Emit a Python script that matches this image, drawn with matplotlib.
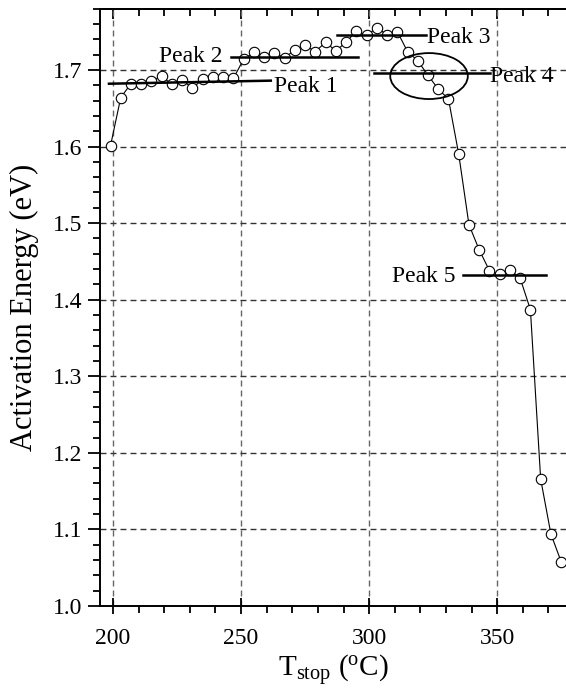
import numpy as np
import matplotlib
matplotlib.use("Agg")
import matplotlib.pyplot as plt
from matplotlib.patches import Ellipse
from matplotlib.ticker import MultipleLocator

plt.rcParams['font.family'] = ['Liberation Serif', 'DejaVu Serif']
plt.rcParams['mathtext.fontset'] = 'custom'
plt.rcParams['mathtext.rm'] = 'Liberation Serif'
plt.rcParams['mathtext.it'] = 'Liberation Serif:italic'
plt.rcParams['lines.scale_dashes'] = False

# stop temperature (C) and activation energy (eV)
t_stop = [199, 203, 207, 211, 215, 219, 223, 227, 231, 235, 239, 243, 247,
          251, 255, 259, 263, 267, 271, 275, 279, 283, 287, 291, 295, 299,
          303, 307, 311, 315, 319, 323, 327, 331, 335, 339, 343, 347, 351,
          355, 359, 363, 367, 371, 375]
energy = [1.601, 1.664, 1.682, 1.681, 1.685, 1.692, 1.681, 1.687, 1.676,
          1.688, 1.691, 1.691, 1.689, 1.714, 1.723, 1.717, 1.722, 1.716,
          1.726, 1.732, 1.724, 1.736, 1.725, 1.736, 1.751, 1.745, 1.755,
          1.746, 1.750, 1.724, 1.712, 1.693, 1.675, 1.662, 1.590, 1.498,
          1.465, 1.438, 1.433, 1.439, 1.428, 1.387, 1.166, 1.094, 1.058]

# peak marker lines: (x0, x1, y0, y1) and labels
peak_names = ['Peak 1', 'Peak 2', 'Peak 3', 'Peak 4', 'Peak 5']
peak_x0 = [198.4, 246.0, 287.6, 302.0, 336.7]
peak_x1 = [261.6, 295.7, 322.1, 347.3, 369.1]
peak_y0 = [1.682, 1.7165, 1.7455, 1.696, 1.4316]
peak_y1 = [1.686, 1.7165, 1.7455, 1.696, 1.4316]
label_x = [263.0, 242.6, 322.6, 347.3, 333.6]
label_y = [1.679, 1.718, 1.742, 1.692, 1.430]
label_ha = ['left', 'right', 'left', 'left', 'right']

fig = plt.figure(figsize=(5.66, 6.93), dpi=100)
ax = fig.add_axes([0.1767, 0.1255, 0.8233, 0.862])

ax.grid(True, axis='x', linestyle=(0, (4.3, 2.9)), color='#666666', lw=1.0)
ax.grid(True, axis='y', linestyle=(0, (4.3, 2.9)), color='#333333', lw=1.0)
ax.set_axisbelow(True)

ax.plot(t_stop, energy, '-', color='black', lw=0.8, zorder=3)
ax.plot(t_stop, energy, 'o', ms=7.5, mfc='white', mec='black', mew=0.8, zorder=4)

for i in range(len(peak_names)):
    ax.plot([peak_x0[i], peak_x1[i]], [peak_y0[i], peak_y1[i]],
            color='black', lw=1.8, zorder=5)
    ax.text(label_x[i], label_y[i], peak_names[i], fontsize=17,
            ha=label_ha[i], va='center', zorder=6)

ax.add_patch(Ellipse((323.4, 1.692), 30.3, 0.060, fill=False,
                     edgecolor='black', lw=1.3, zorder=5))

ax.set_xlim(194.9, 376.9)
ax.set_ylim(1.0, 1.78)
ax.xaxis.set_major_locator(MultipleLocator(50))
ax.xaxis.set_minor_locator(MultipleLocator(10))
ax.yaxis.set_major_locator(MultipleLocator(0.1))
ax.yaxis.set_minor_locator(MultipleLocator(0.02))
ax.yaxis.set_major_formatter(matplotlib.ticker.FormatStrFormatter('%.1f'))

ax.tick_params(axis='both', which='major', labelsize=17, width=1.3)
ax.tick_params(axis='x', which='major', direction='inout', length=12, pad=10)
ax.tick_params(axis='x', which='minor', direction='out', length=5, width=1.3)
ax.tick_params(axis='y', which='major', direction='out', length=9)
ax.tick_params(axis='y', which='minor', direction='out', length=5, width=1.3)

top = ax.secondary_xaxis('top')
top.xaxis.set_major_locator(MultipleLocator(50))
top.xaxis.set_minor_locator(MultipleLocator(10))
top.tick_params(which='major', direction='in', length=7, width=1.3, labeltop=False)
top.tick_params(which='minor', direction='in', length=5, width=1.3)
top.spines['top'].set_linewidth(1.4)

for s in ['left', 'bottom', 'top']:
    ax.spines[s].set_linewidth(1.4)
ax.spines['right'].set_visible(False)

ax.set_xlabel(r'T$_\mathrm{stop}$ ($^\mathrm{o}$C)', fontsize=21, labelpad=3)
ax.set_ylabel('Activation Energy (eV)', fontsize=22, labelpad=10)

fig.savefig('out.png', dpi=100)
